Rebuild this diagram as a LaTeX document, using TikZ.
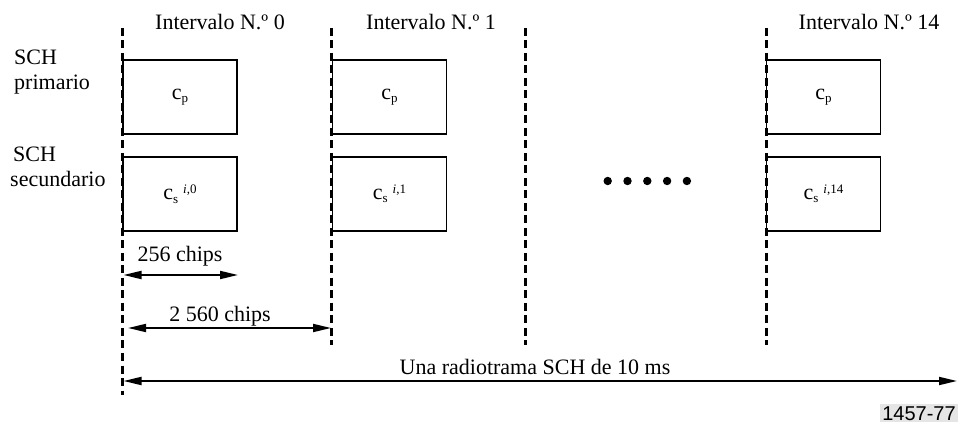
\documentclass[tikz,border=0pt]{standalone}
\usepackage{fontspec}
\setmainfont{Liberation Serif}
\newfontfamily\figsans{Liberation Sans}
\usetikzlibrary{arrows.meta}
\newcommand\mysub[1]{\raisebox{-3.5pt}{\fontsize{13}{13}\selectfont #1}}
\newcommand\mysup[1]{\hspace{5pt}\raisebox{6pt}{\fontsize{13}{13}\selectfont #1}}
\begin{document}
\begin{tikzpicture}[x=1pt,y=-1pt,
  slotbox/.style={draw, line width=1.8pt, minimum width=114pt, minimum height=74pt, inner sep=0pt, font=\fontsize{22}{25}\selectfont},
  slotline/.style={dash pattern=on 8pt off 4.5pt, line width=3pt},
  dimarrow/.style={line width=1.9pt, {Triangle[length=18pt,width=8pt]}-{Triangle[length=18pt,width=8pt]}},
  txt/.style={font=\fontsize{22}{25}\selectfont, inner sep=0pt},
  dot/.style={fill=black, circle, inner sep=0pt, minimum size=8.4pt}]
\useasboundingbox (0,0) rectangle (958,435);
% dashed slot boundaries
\coordinate (d0t) at (122,28); \coordinate (d0b) at (122,395);
\coordinate (d1t) at (331,28); \coordinate (d1b) at (331,345);
\coordinate (d2t) at (525,28); \coordinate (d2b) at (525,345);
\coordinate (d3t) at (766,28); \coordinate (d3b) at (766,345);
\draw[slotline] (d0t) -- (d0b);
\draw[slotline] (d1t) -- (d1b);
\draw[slotline] (d2t) -- (d2b);
\draw[slotline] (d3t) -- (d3b);
% interval labels
\node[txt, anchor=base] (i0) at (220,30) {Intervalo N.º 0};
\node[txt, anchor=base] (i1) at (431,30) {Intervalo N.º 1};
\node[txt, anchor=base] (i14) at (869,30) {Intervalo N.º 14};
% row labels
\node[txt, anchor=base west, align=left] (lp) at (14,90) {SCH\\primario};
\node[txt, anchor=base west, align=left] (ls) at (10,187) {\hspace{3pt}SCH\\secundario};
% boxes
\node[slotbox] (p0) at (180,97) {c\mysub{p}};
\node[slotbox] (p1) at (389.5,97) {c\mysub{p}};
\node[slotbox] (p14) at (823.5,97) {c\mysub{p}};
\node[slotbox] (s0) at (180,194) {c\mysub{s}\mysup{\textit{i},0}};
\node[slotbox] (s1) at (389.5,194) {c\mysub{s}\mysup{\textit{i},1}};
\node[slotbox] (s14) at (823.5,194) {c\mysub{s}\mysup{\textit{i},14}};
% dots
\node[dot] (e1) at (607.7,181) {};
\node[dot] (e2) at (627.5,181) {};
\node[dot] (e3) at (647.3,181) {};
\node[dot] (e4) at (667.1,181) {};
\node[dot] (e5) at (686.9,181) {};
% dimension arrows
\coordinate (a1l) at (123.5,275); \coordinate (a1r) at (238,275);
\draw[dimarrow] (a1l) -- (a1r);
\node[txt, anchor=base] (t1) at (180,262) {256 chips};
\coordinate (a2l) at (128,328); \coordinate (a2r) at (331,328);
\draw[dimarrow] (a2l) -- (a2r);
\node[txt, anchor=base] (t2) at (220,322) {2 560 chips};
\coordinate (a3l) at (123.5,381); \coordinate (a3r) at (957,381);
\draw[dimarrow] (a3l) -- (a3r);
\node[txt, anchor=base] (t3) at (535,374) {Una radiotrama SCH de 10 ms};
% figure number
\node[fill=black!10, inner sep=2pt, font=\figsans\fontsize{20}{22}\selectfont, anchor=base] (fig) at (919,420) {1457-77};
\end{tikzpicture}
\end{document}
